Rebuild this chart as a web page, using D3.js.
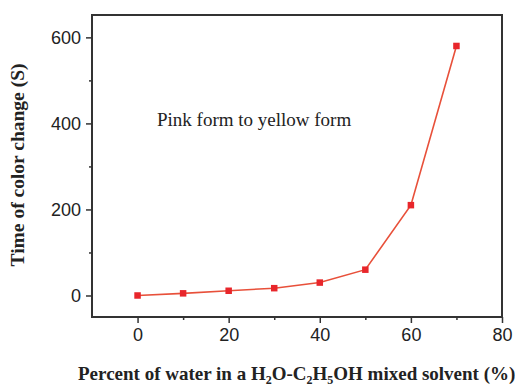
<!DOCTYPE html>
<html>
<head>
<meta charset="utf-8">
<script src="https://cdn.jsdelivr.net/npm/d3@7"></script>
<style>
  html, body { margin: 0; padding: 0; background: #fff; }
  svg { display: block; }
</style>
</head>
<body>
<svg id="chart" width="515" height="387"></svg>
<script>
// Water percentage in the H2O–C2H5OH solvent and time for the pink→yellow change
const waterPercent = [0, 10, 20, 30, 40, 50, 60, 70];
const changeTime = [0, 5, 11, 17, 30, 60, 210, 580];
const xTicks = [0, 20, 40, 60, 80];
const yTicks = [0, 200, 400, 600];
const xMinorTicks = [10, 30, 50, 70];
const yMinorTicks = [100, 300, 500];

const svg = d3.select("#chart");
const plot = { left: 92, top: 15, right: 502, bottom: 317 };

const x = d3.scaleLinear().domain([-10, 80]).range([plot.left, plot.right]);
const y = d3.scaleLinear().domain([-50, 652]).range([plot.bottom, plot.top]);

const axisColor = "#333";
const tickFont = "'Liberation Sans', Arial, sans-serif";
const serif = "'Liberation Serif', 'Times New Roman', serif";

// frame
svg.append("rect")
  .attr("x", plot.left).attr("y", plot.top)
  .attr("width", plot.right - plot.left).attr("height", plot.bottom - plot.top)
  .attr("fill", "none").attr("stroke", axisColor).attr("stroke-width", 2);

// bottom axis: major and minor ticks
const xAxis = d3.axisBottom(x).tickValues(xTicks).tickSize(6).tickPadding(5).tickFormat(d3.format("d"));
const gx = svg.append("g").attr("transform", `translate(0,${plot.bottom})`).call(xAxis);
gx.select(".domain").remove();
gx.selectAll(".tick line").attr("stroke", axisColor).attr("stroke-width", 1.5);
gx.selectAll(".tick text").attr("font-family", tickFont).attr("font-size", 18).attr("fill", "#222");

const gxm = svg.append("g").attr("transform", `translate(0,${plot.bottom})`)
  .call(d3.axisBottom(x).tickValues(xMinorTicks).tickSize(3).tickFormat(""));
gxm.select(".domain").remove();
gxm.selectAll(".tick line").attr("stroke", axisColor).attr("stroke-width", 1.5);

// left axis: major and minor ticks
const yAxis = d3.axisLeft(y).tickValues(yTicks).tickSize(6).tickPadding(5).tickFormat(d3.format("d"));
const gy = svg.append("g").attr("transform", `translate(${plot.left},0)`).call(yAxis);
gy.select(".domain").remove();
gy.selectAll(".tick line").attr("stroke", axisColor).attr("stroke-width", 1.5);
gy.selectAll(".tick text").attr("font-family", tickFont).attr("font-size", 18).attr("fill", "#222");

const gym = svg.append("g").attr("transform", `translate(${plot.left},0)`)
  .call(d3.axisLeft(y).tickValues(yMinorTicks).tickSize(3).tickFormat(""));
gym.select(".domain").remove();
gym.selectAll(".tick line").attr("stroke", axisColor).attr("stroke-width", 1.5);

// series line and square markers
const pts = waterPercent.map((w, i) => [w, changeTime[i]]);
svg.append("path")
  .datum(pts)
  .attr("fill", "none")
  .attr("stroke", "#e8503a")
  .attr("stroke-width", 1.6)
  .attr("d", d3.line().x(d => x(d[0])).y(d => y(d[1])));

const ms = 6.5;
svg.selectAll("rect.marker").data(pts).enter().append("rect")
  .attr("class", "marker")
  .attr("x", d => x(d[0]) - ms / 2).attr("y", d => y(d[1]) - ms / 2)
  .attr("width", ms).attr("height", ms)
  .attr("fill", "#e8262b");

// annotation
svg.append("text")
  .attr("x", 157).attr("y", 126)
  .attr("font-family", serif).attr("font-size", 19).attr("fill", "#222")
  .text("Pink form to yellow form");

// y-axis title
svg.append("text")
  .attr("transform", "translate(24,165) rotate(-90)")
  .attr("text-anchor", "middle")
  .attr("font-family", serif).attr("font-weight", "bold").attr("font-size", 19.5).attr("fill", "#222")
  .text("Time of color change (S)");

// x-axis title with chemical subscripts
const xt = svg.append("text")
  .attr("x", 78).attr("y", 380)
  .attr("font-family", serif).attr("font-weight", "bold").attr("font-size", 19).attr("fill", "#222");
const parts = [
  ["Percent of water in a H", false], ["2", true], ["O-C", false], ["2", true],
  ["H", false], ["5", true], ["OH mixed solvent (%)", false]
];
parts.forEach(([t, sub], i) => {
  const ts = xt.append("tspan").text(t);
  if (sub) ts.attr("font-size", 12).attr("dy", 4);
  else if (i > 0) ts.attr("dy", -4);
});
</script>
</body>
</html>
